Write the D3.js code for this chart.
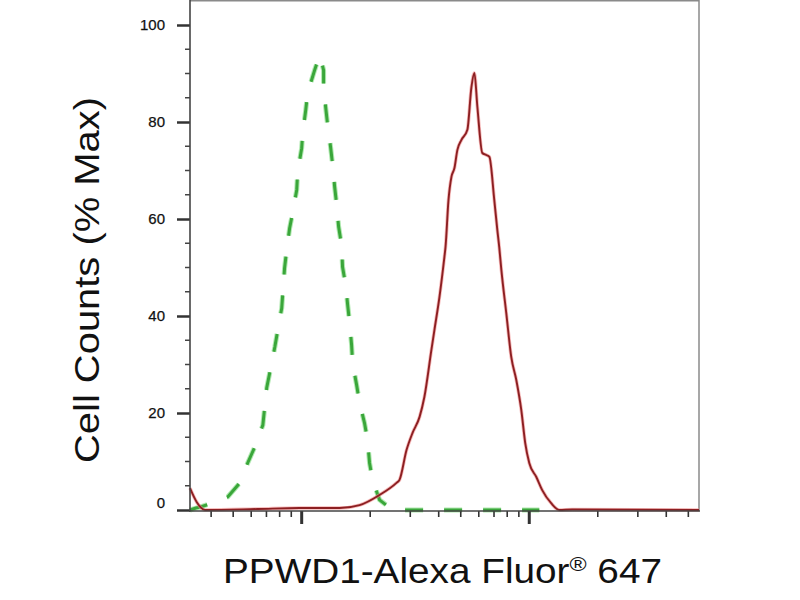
<!DOCTYPE html>
<html>
<head>
<meta charset="utf-8">
<script src="https://cdn.jsdelivr.net/npm/d3@7"></script>
<style>
  body { margin: 0; background: #fff; }
  svg { display: block; }
</style>
</head>
<body>
<div id="chart"></div>
<script>
// isotype control (green dashed) - fluorescence vs % max
var isoX = [32.3, 34.3, 35.7, 40.3, 47.3, 53.5, 57.9, 62.2, 67.5, 70.2, 73.1, 76.2, 78.5, 81.7,
            84.1, 85.9, 88.5, 91.4, 95.1, 96.0, 100, 101, 104.2, 106.2, 114, 120,
            124.8, 124.8, 127.4, 130, 134, 136.8, 139.6, 142.5, 145.3, 149.7, 151.2, 156, 159.2,
            162.4, 165.7, 167.4, 174.3, 179.6, 188.9, 194.7, 198.7, 204.8, 219.8, 250.6, 1107];
var isoY = [0, 0.4, 0.6, 1.4, 2.7, 5.6, 9.7, 13.0, 17.5, 25.2, 29.3, 33.6, 37.1, 41.6,
            49.9, 53.6, 58.1, 61.4, 66.0, 69.7, 74.6, 77.7, 82.5, 86.0, 90.7, 93.8,
            90.7, 87.6, 83.1, 79.4, 74.8, 71.1, 66.6, 62.9, 58.4, 54.6, 50.1, 46.4, 42.3,
            38.6, 34.0, 30.3, 25.8, 22.1, 17.9, 14.4, 9.7, 6.2, 2.1, 0, 0];

// PPWD1 stained (dark red)
var ppwdX = [32.3, 34.6, 37.6, 64.1, 98, 146.7, 179.6, 219.8, 261, 269, 289, 307, 329.6, 346,
             371.5, 383, 403, 423.8, 428.5, 441.6, 455, 469, 483, 503.5, 534.6, 557, 574,
             591.6, 622, 647, 668, 702, 724, 738, 754, 792.5, 833.7, 877, 922.6, 960, 1000,
             1074, 1140, 1248, 1355, 1545, 5570];
var ppwdY = [4.5, 1.6, 0, 0.2, 0.4, 0.4, 1.0, 3.1, 5.6, 6.2, 12.4, 15.9, 19.2, 23.3,
             33.0, 37.1, 43.9, 52.2, 54.2, 63.9, 68.7, 70.5, 74.2, 76.3, 78.4, 87.2, 90.1,
             83.1, 73.6, 73.2, 72.8, 63.9, 57.7, 54.2, 49.5, 40.6, 31.5, 26.8, 20.6, 13.8, 9.7,
             6.8, 4.1, 1.4, 0, 0.1, 0];

var yTickValues = [0, 20, 40, 60, 80, 100];
var yMinorValues = [5, 10, 15, 25, 30, 35, 45, 50, 55, 65, 70, 75, 85, 90, 95];
var xDomain = [32.3, 5570];

var xLabel = 'PPWD1-Alexa Fluor';
var xLabelSup = '\u00AE';
var xLabelEnd = ' 647';
var yLabel = 'Cell Counts (% Max)';

var W = 800, H = 600;
var left = 190, right = 699, bottom = 510;
var FONT = '"Liberation Sans", Arial, Helvetica, sans-serif';

var svg = d3.select('#chart').append('svg')
  .attr('width', W)
  .attr('height', H)
  .style('background', '#fff');

var x = d3.scaleLog().domain(xDomain).range([left, right]);
var y = d3.scaleLinear().domain([0, 105]).range([bottom, bottom - 105 * 4.85]);

// frame: top and right in light grey
svg.append('path')
  .attr('d', 'M' + left + ',' + 0.75 + 'H' + right + 'V' + (bottom + 1))
  .attr('fill', 'none')
  .attr('stroke', '#8a8a8a')
  .attr('stroke-width', 1.5);

// curves
var line = function (xs, ys, curve) {
  return d3.line()
    .x(function (d, i) { return x(xs[i]); })
    .y(function (d, i) { return y(ys[i]); })
    .curve(curve)(xs);
};

var plot = svg.append('g');

plot.append('path')
  .attr('d', line(isoX, isoY, d3.curveLinear))
  .attr('fill', 'none')
  .attr('stroke', '#8fe08f')
  .attr('stroke-width', 5)
  .attr('stroke-dasharray', '18,21')
  .attr('opacity', 0.7);
plot.append('path')
  .attr('d', line(isoX, isoY, d3.curveLinear))
  .attr('fill', 'none')
  .attr('stroke', '#3aa63a')
  .attr('stroke-width', 3)
  .attr('stroke-dasharray', '18,21');

plot.append('path')
  .attr('d', line(ppwdX, ppwdY, d3.curveMonotoneX))
  .attr('fill', 'none')
  .attr('stroke', '#f08a8a')
  .attr('stroke-width', 3.5)
  .attr('opacity', 0.6);
plot.append('path')
  .attr('d', line(ppwdX, ppwdY, d3.curveMonotoneX))
  .attr('fill', 'none')
  .attr('stroke', '#8c1f22')
  .attr('stroke-width', 1.9);

// y axis
var yAxis = svg.append('g')
  .attr('transform', 'translate(' + left + ',0)')
  .call(d3.axisLeft(y).tickValues(yTickValues).tickSize(13).tickPadding(12).tickSizeOuter(0));
yAxis.select('.domain').remove();
yAxis.selectAll('.tick line').attr('stroke', '#333').attr('stroke-width', 2.5);
yAxis.selectAll('.tick text')
  .attr('font-family', FONT)
  .attr('font-size', 15)
  .attr('fill', '#111')
  .attr('stroke', '#111')
  .attr('stroke-width', 0.25)
  .attr('dy', function (d) { return d === 0 ? '-0.2em' : '0.32em'; });

svg.append('g').selectAll('line')
  .data(yMinorValues)
  .join('line')
  .attr('x1', left - 5)
  .attr('x2', left)
  .attr('y1', function (d) { return y(d); })
  .attr('y2', function (d) { return y(d); })
  .attr('stroke', '#444')
  .attr('stroke-width', 1.5);

// x axis (log)
var xTicks = x.ticks();
var isMajor = function (d) { return Math.abs(Math.log10(d) - Math.round(Math.log10(d))) < 1e-6; };

svg.append('g').selectAll('line')
  .data(xTicks)
  .join('line')
  .attr('x1', function (d) { return x(d); })
  .attr('x2', function (d) { return x(d); })
  .attr('y1', bottom + 1)
  .attr('y2', function (d) { return bottom + 1 + (isMajor(d) ? 13 : 6); })
  .attr('stroke', '#333')
  .attr('stroke-width', function (d) { return isMajor(d) ? 3 : 1.6; });

// axis lines
svg.append('line')
  .attr('x1', left).attr('x2', left)
  .attr('y1', 0).attr('y2', bottom + 1.5)
  .attr('stroke', '#444').attr('stroke-width', 1.6);
svg.append('line')
  .attr('x1', left - 1).attr('x2', right + 1)
  .attr('y1', bottom + 1).attr('y2', bottom + 1)
  .attr('stroke', '#444').attr('stroke-width', 1.6);

// labels
var xt = svg.append('text')
  .attr('x', 223)
  .attr('y', 583)
  .attr('font-family', FONT)
  .attr('font-size', 35)
  .attr('fill', '#111')
  .attr('textLength', 439)
  .attr('lengthAdjust', 'spacingAndGlyphs');
xt.append('tspan').text(xLabel);
xt.append('tspan').attr('font-size', 21).attr('dy', -12).text(xLabelSup);
xt.append('tspan').attr('dy', 12).text(xLabelEnd);

svg.append('text')
  .attr('transform', 'translate(99,' + 463 + ') rotate(-90)')
  .attr('font-family', FONT)
  .attr('font-size', 35)
  .attr('fill', '#111')
  .attr('textLength', 366)
  .attr('lengthAdjust', 'spacingAndGlyphs')
  .text(yLabel);
</script>
</body>
</html>
